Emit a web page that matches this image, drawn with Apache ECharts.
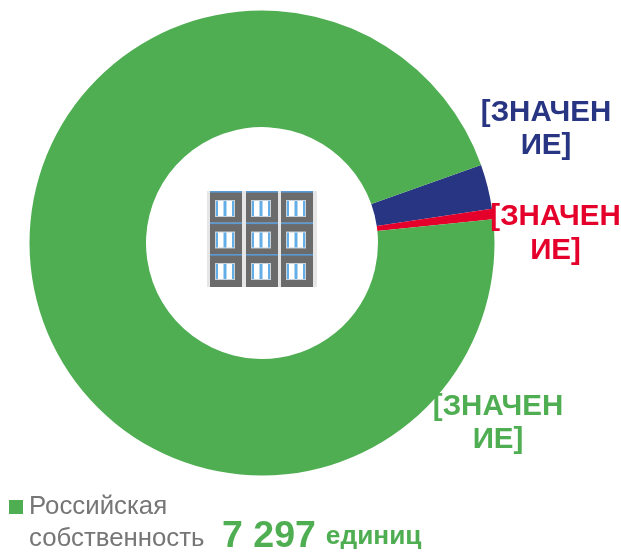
<!DOCTYPE html>
<html><head><meta charset="utf-8">
<style>html,body{margin:0;padding:0;background:#fff}#c{width:621px;height:552px}</style>
<script src="https://cdn.jsdelivr.net/npm/echarts@6/dist/echarts.min.js"></script>
</head><body><div id="c"></div>
<script>
const categories = ['Иностранная собственность', 'Совместная собственность', 'Российская\nсобственность'];
const values = [235, 54, 7297];
const colors = ['#283583', '#e4002b', '#4fae52'];
const labelText = '[ЗНАЧЕН\nИЕ]';
const totalNumber = '7 297';
const totalUnit = 'единиц';

const labelSpots = [[546, 126.5], [555.5, 232], [498, 421.5]];
const font = '"Liberation Sans", Arial, sans-serif';
const legendLines = categories[2].split('\n');
const icon = [];
icon.push({type:'rect',shape:{x:207,y:191,width:110,height:96},style:{fill:'#e6e6e6'}});
[210,246,281].forEach(x=>{
  [191,222.5,254].forEach(y=>{
    icon.push({type:'rect',shape:{x:x,y:y,width:32,height:y===254?33:31.5},style:{fill:'#6b6b6b'}});
    icon.push({type:'rect',shape:{x:x,y:y,width:32,height:1.6},style:{fill:'#5b9bd5'}});
    icon.push({type:'rect',shape:{x:x+5,y:y+9,width:20,height:17},style:{fill:'#c9d3dc'}});
    icon.push({type:'rect',shape:{x:x+6,y:y+10,width:18,height:15},style:{fill:'#ffffff'}});
    [[0,2],[7.5,3],[16,2]].forEach(d=>icon.push({type:'rect',shape:{x:x+6+d[0],y:y+10,width:d[1],height:15},style:{fill:'#63aee6'}}));
  });
});

const chart = echarts.init(document.getElementById('c'), null, {renderer:'canvas'});
chart.setOption({
  animation:false,
  backgroundColor:'#fff',
  color:colors,
  legend:{
    data:[categories[2]],
    left:9, top:490,
    padding:0,
    orient:'vertical',
    icon:'rect',
    itemWidth:14,itemHeight:14,itemGap:0,
    formatter:(n)=>n.split('\n')[0],
    textStyle:{fontFamily:font,fontSize:25.8,color:'#767676',lineHeight:30,padding:[4,0,0,1]}
  },
  graphic:[
    {type:'group',children:icon,z:5},
    {type:'text',left:29,top:524,z:5,style:{text:legendLines[1],fontFamily:font,fontSize:25.8,fill:'#767676',lineHeight:30}},
    {type:'text',left:222,top:518,z:5,style:{
      rich:{
        a:{fontFamily:font,fontSize:37.5,fontWeight:'bold',fill:'#4fae52',lineHeight:40},
        b:{fontFamily:font,fontSize:26.3,fontWeight:'bold',fill:'#4fae52',lineHeight:40,padding:[0,0,0,10]}
      },
      text:'{a|'+totalNumber+'}{b|'+totalUnit+'}'
    }}
  ],
  series:[{
    type:'pie',
    center:[262,243],
    radius:[116,232.5],
    startAngle:19.6,
    clockwise:true,
    avoidLabelOverlap:false,
    emphasis:{disabled:true},
    labelLine:{show:false},
    label:{show:true,formatter:labelText,fontFamily:font,fontSize:29.5,fontWeight:'bold',lineHeight:33.5,align:'center',verticalAlign:'middle'},
    labelLayout:(p)=>({x:labelSpots[p.dataIndex][0],y:labelSpots[p.dataIndex][1]+ (p.dataIndex===0?3:2),align:'center',verticalAlign:'middle'}),
    data:categories.map((n,i)=>({name:n,value:values[i],itemStyle:{color:colors[i]},label:{color:colors[i]}}))
  }]
});
</script></body></html>
